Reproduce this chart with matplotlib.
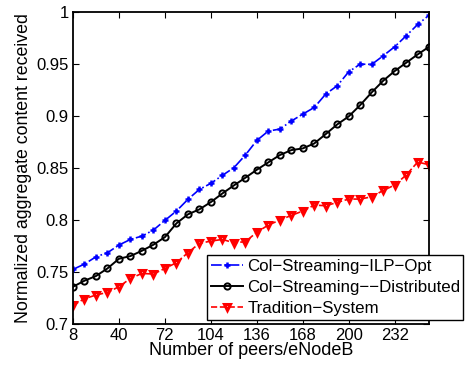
import numpy as np
import matplotlib
matplotlib.use("Agg")
import matplotlib.pyplot as plt

# Données
peers = list(range(8, 257, 8))
ilp_opt = [0.7526, 0.7577, 0.7647, 0.7686, 0.7760, 0.7814, 0.7846, 0.7904,
           0.7997, 0.8087, 0.8199, 0.8295, 0.8353, 0.8430, 0.8503, 0.8625,
           0.8766, 0.8856, 0.8875, 0.8952, 0.9019, 0.9083, 0.9212, 0.9292,
           0.9426, 0.9500, 0.9497, 0.9580, 0.9667, 0.9772, 0.9881, 0.9971]
distributed = [0.7359, 0.7417, 0.7462, 0.7535, 0.7628, 0.7654, 0.7705, 0.7763,
               0.7836, 0.7968, 0.8055, 0.8103, 0.8173, 0.8256, 0.8333, 0.8407,
               0.8484, 0.8555, 0.8625, 0.8673, 0.8689, 0.8737, 0.8827, 0.8920,
               0.8997, 0.9106, 0.9228, 0.9340, 0.9433, 0.9513, 0.9593, 0.9667]
tradition = [0.7180, 0.7244, 0.7279, 0.7305, 0.7359, 0.7439, 0.7487, 0.7481,
             0.7535, 0.7590, 0.7686, 0.7776, 0.7798, 0.7814, 0.7782, 0.7792,
             0.7883, 0.7952, 0.8000, 0.8045, 0.8087, 0.8144, 0.8138, 0.8170,
             0.8202, 0.8202, 0.8224, 0.8285, 0.8337, 0.8433, 0.8558, 0.8532]
labels = ["Col\u2212Streaming\u2212ILP\u2212Opt",
          "Col\u2212Streaming\u2212\u2212Distributed",
          "Tradition\u2212System"]
xticks = [8, 40, 72, 104, 136, 168, 200, 232]
yticks = [0.7, 0.75, 0.8, 0.85, 0.9, 0.95, 1]

plt.rcParams['font.family'] = ['Liberation Sans', 'DejaVu Sans']
plt.rcParams['font.size'] = 12

fig = plt.figure(figsize=(4.68, 3.67), dpi=100)
ax = fig.add_axes([0.156, 0.117, 0.761, 0.850])

ax.plot(peers, ilp_opt, '-.', color='blue', marker='+', markersize=5,
        markeredgewidth=1.8, linewidth=1.2, label=labels[0])
ax.plot(peers, distributed, '-', color='black', marker='o', markersize=4.5,
        markerfacecolor='none', markeredgewidth=1.4, linewidth=1.4, label=labels[1])
ax.plot(peers, tradition, '--', color='red', marker='v', markersize=5,
        markerfacecolor='none', markeredgewidth=2.2, linewidth=1.2, label=labels[2])

ax.set_xlim(8, 256)
ax.set_ylim(0.7, 1.0)
ax.set_xticks(xticks)
ax.set_yticks(yticks)
ax.set_yticklabels(["0.7", "0.75", "0.8", "0.85", "0.9", "0.95", "1"])
ax.tick_params(direction='in', length=4, width=0.8, top=True, right=True, pad=3,
               labelsize=12)
for s in ax.spines.values():
    s.set_linewidth(1.3)

ax.set_xlabel("Number of peers/eNodeB", fontsize=13, labelpad=-1)
ax.set_ylabel("Normalized aggregate content received", fontsize=12.8, labelpad=3)

leg = ax.legend(loc='lower left', bbox_to_anchor=(0.376, 0.013, 0.72, 0.218),
                mode='expand', numpoints=1, handlelength=1.9, handletextpad=0.25,
                borderaxespad=0, borderpad=0.25, labelspacing=0.35,
                fancybox=False, framealpha=1, edgecolor='black', fontsize=12.2)
leg.get_frame().set_linewidth(1.0)

fig.savefig("out.png", dpi=100)
